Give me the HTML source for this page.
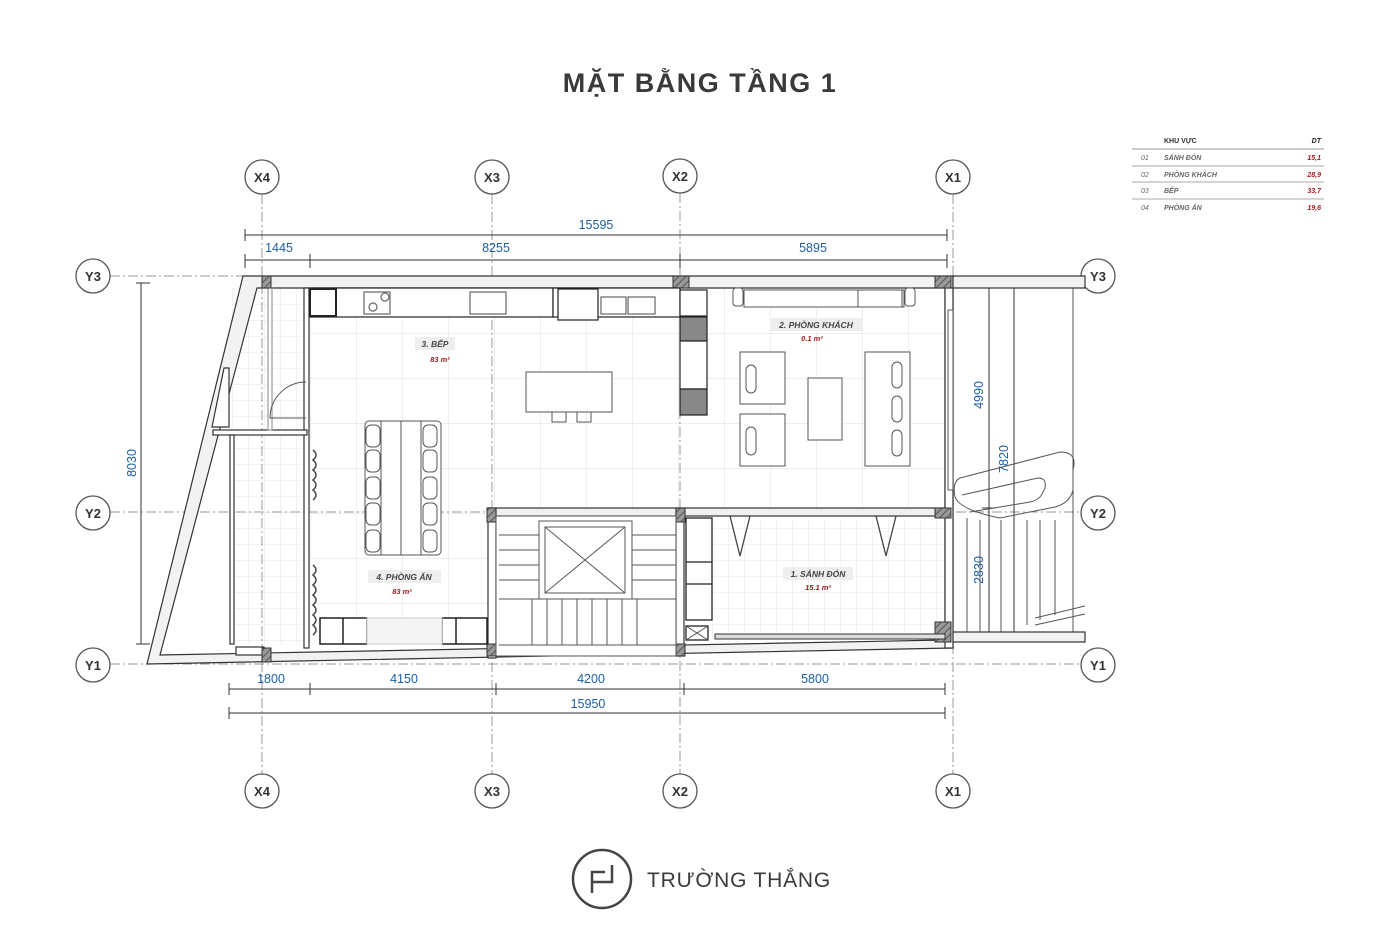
<!DOCTYPE html>
<html><head><meta charset="utf-8"><style>
html,body{margin:0;padding:0;background:#fff;}
svg{display:block;}
text{font-family:"Liberation Sans",sans-serif;}
</style></head><body>
<svg width="1400" height="930" viewBox="0 0 1400 930" xmlns="http://www.w3.org/2000/svg">
<defs>
<pattern id="tile" x="310" y="288" width="46" height="45" patternUnits="userSpaceOnUse">
<path d="M0 0H46M0 0V45" stroke="#ddd" stroke-width="1" fill="none"/>
</pattern>
<pattern id="tile2" x="232" y="288" width="16" height="16" patternUnits="userSpaceOnUse">
<path d="M0 0H16M0 0V16" stroke="#e6e6e6" stroke-width="1" fill="none"/>
</pattern>
<pattern id="hatch" width="5" height="5" patternUnits="userSpaceOnUse" patternTransform="rotate(45)">
<rect width="5" height="5" fill="#999"/><line x1="0" y1="0" x2="0" y2="5" stroke="#555" stroke-width="2"/>
</pattern>
</defs>

<text x="700" y="92" text-anchor="middle" font-size="27" font-weight="bold" fill="#3a3a3a" letter-spacing="1.5">MẶT BẰNG TẦNG 1</text>

<!-- table -->
<g font-size="7" font-style="italic" font-weight="bold" fill="#666">
<text x="1164" y="143" font-style="normal" fill="#333">KHU VỰC</text>
<text x="1321" y="143" text-anchor="end" fill="#222">DT</text>
<line x1="1132" y1="149" x2="1324" y2="149" stroke="#999"/>
<text x="1141" y="160" font-weight="normal">01</text><text x="1164" y="160">SẢNH ĐÓN</text><text x="1321" y="160" text-anchor="end" fill="#a31b1b">15,1</text>
<line x1="1132" y1="166" x2="1324" y2="166" stroke="#aaa"/>
<text x="1141" y="177" font-weight="normal">02</text><text x="1164" y="177">PHÒNG KHÁCH</text><text x="1321" y="177" text-anchor="end" fill="#a31b1b">28,9</text>
<line x1="1132" y1="182" x2="1324" y2="182" stroke="#aaa"/>
<text x="1141" y="193" font-weight="normal">03</text><text x="1164" y="193">BẾP</text><text x="1321" y="193" text-anchor="end" fill="#a31b1b">33,7</text>
<line x1="1132" y1="199" x2="1324" y2="199" stroke="#aaa"/>
<text x="1141" y="210" font-weight="normal">04</text><text x="1164" y="210">PHÒNG ĂN</text><text x="1321" y="210" text-anchor="end" fill="#a31b1b">19,6</text>
</g>

<!-- floor tiles -->
<rect x="310" y="288" width="370" height="356" fill="url(#tile)"/>
<rect x="680" y="288" width="265" height="220" fill="url(#tile)"/>
<rect x="712" y="518" width="233" height="120" fill="url(#tile2)"/>
<rect x="232" y="288" width="75" height="356" fill="url(#tile2)"/>

<!-- grid lines -->
<g stroke="#999" stroke-width="1" stroke-dasharray="10,3,2,3" fill="none">
<line x1="262" y1="194" x2="262" y2="774"/>
<line x1="492" y1="194" x2="492" y2="774"/>
<line x1="680" y1="193" x2="680" y2="774"/>
<line x1="953" y1="194" x2="953" y2="774"/>
<line x1="110" y1="276" x2="1081" y2="276"/>
<line x1="110" y1="512" x2="1081" y2="512"/>
<line x1="110" y1="664" x2="1081" y2="664"/>
</g>
<g fill="#fff" stroke="#555" stroke-width="1.3">
<circle cx="262" cy="177" r="17"/><circle cx="492" cy="177" r="17"/><circle cx="680" cy="176" r="17"/><circle cx="953" cy="177" r="17"/>
<circle cx="262" cy="791" r="17"/><circle cx="492" cy="791" r="17"/><circle cx="680" cy="791" r="17"/><circle cx="953" cy="791" r="17"/>
<circle cx="93" cy="276" r="17"/><circle cx="93" cy="513" r="17"/><circle cx="93" cy="665" r="17"/>
<circle cx="1098" cy="276" r="17"/><circle cx="1098" cy="513" r="17"/><circle cx="1098" cy="665" r="17"/>
</g>
<g font-size="13" font-weight="bold" text-anchor="middle" fill="#333">
<text x="262" y="182">X4</text><text x="492" y="182">X3</text><text x="680" y="181">X2</text><text x="953" y="182">X1</text>
<text x="262" y="796">X4</text><text x="492" y="796">X3</text><text x="680" y="796">X2</text><text x="953" y="796">X1</text>
<text x="93" y="281">Y3</text><text x="93" y="518">Y2</text><text x="93" y="670">Y1</text>
<text x="1098" y="281">Y3</text><text x="1098" y="518">Y2</text><text x="1098" y="670">Y1</text>
</g>

<!-- dimensions -->
<g stroke="#333" stroke-width="1" fill="none">
<line x1="245" y1="235" x2="947" y2="235"/>
<line x1="245" y1="229" x2="245" y2="241"/><line x1="947" y1="229" x2="947" y2="241"/>
<line x1="245" y1="260" x2="947" y2="260"/>
<line x1="245" y1="254" x2="245" y2="268"/><line x1="310" y1="254" x2="310" y2="268"/><line x1="680" y1="254" x2="680" y2="268"/><line x1="947" y1="254" x2="947" y2="268"/>
<line x1="229" y1="689" x2="945" y2="689"/>
<line x1="229" y1="683" x2="229" y2="695"/><line x1="310" y1="683" x2="310" y2="695"/><line x1="496" y1="683" x2="496" y2="695"/><line x1="684" y1="683" x2="684" y2="695"/><line x1="945" y1="683" x2="945" y2="695"/>
<line x1="229" y1="713" x2="945" y2="713"/>
<line x1="229" y1="707" x2="229" y2="719"/><line x1="945" y1="707" x2="945" y2="719"/>
<line x1="141" y1="283" x2="141" y2="644"/>
<line x1="136" y1="283" x2="150" y2="283"/><line x1="136" y1="644" x2="150" y2="644"/>
<line x1="989" y1="283" x2="989" y2="632"/>
<line x1="1014" y1="283" x2="1014" y2="632"/>
<line x1="982" y1="283" x2="996" y2="283"/><line x1="1007" y1="283" x2="1021" y2="283"/>
<line x1="982" y1="508" x2="996" y2="508"/>
<line x1="982" y1="632" x2="996" y2="632"/><line x1="1007" y1="632" x2="1021" y2="632"/>
</g>
<g font-size="12.5" fill="#1a5fa8" text-anchor="middle">
<text x="596" y="229">15595</text>
<text x="279" y="252">1445</text><text x="496" y="252">8255</text><text x="813" y="252">5895</text>
<text x="271" y="683">1800</text><text x="404" y="683">4150</text><text x="591" y="683">4200</text><text x="815" y="683">5800</text>
<text x="588" y="708">15950</text>
<text transform="translate(136,463) rotate(-90)">8030</text>
<text transform="translate(983,395) rotate(-90)">4990</text>
<text transform="translate(1008,459) rotate(-90)">7820</text>
<text transform="translate(983,570) rotate(-90)">2830</text>
</g>

<!-- outer walls -->
<path d="M243 276 L953 276 L953 648 L147 664 Z M257 288 L945 288 L945 640 L160 655 Z" fill="#f2f2f2" fill-rule="evenodd" stroke="#333" stroke-width="1.2"/>
<g fill="#fff" stroke="#333" stroke-width="1.2">
<rect x="304" y="288" width="5" height="360"/>
<rect x="945" y="288" width="8" height="360"/>
<rect x="213" y="430" width="94" height="5"/>
<rect x="230" y="435" width="4" height="209"/>
<polygon points="224,368 229,368 229,427 212,427"/>
<rect x="268" y="288" width="4" height="142" stroke="#999"/>
<rect x="488" y="508" width="457" height="8" fill="#f0f0f0"/>
<rect x="488" y="508" width="8" height="150"/>
<rect x="676" y="508" width="8" height="148"/>
<rect x="953" y="276" width="132" height="12" fill="#f2f2f2"/>
<rect x="953" y="632" width="132" height="10" fill="#f2f2f2"/>
<rect x="236" y="647" width="28" height="8"/>
</g>
<!-- columns -->
<g fill="url(#hatch)" stroke="#333" stroke-width="1">
<rect x="262" y="276" width="9" height="12"/><rect x="673" y="276" width="16" height="12"/><rect x="935" y="276" width="16" height="12"/>
<rect x="262" y="648" width="9" height="14"/><rect x="487" y="508" width="9" height="14"/><rect x="487" y="644" width="9" height="12"/>
<rect x="676" y="508" width="9" height="14"/><rect x="676" y="644" width="9" height="12"/>
<rect x="935" y="622" width="16" height="20"/><rect x="935" y="508" width="16" height="10"/>
</g>

<!-- kitchen counter -->
<g fill="#fff" stroke="#222" stroke-width="1.2">
<rect x="310" y="288" width="243" height="29"/>
<rect x="310" y="289" width="26" height="27" stroke-width="2"/>
<rect x="364" y="292" width="26" height="22" stroke="#666"/>
<circle cx="373" cy="307" r="4" stroke="#666"/><circle cx="385" cy="297" r="4" stroke="#666"/>
<rect x="470" y="292" width="36" height="22" stroke="#666"/>
<rect x="553" y="288" width="127" height="29" fill="#fff"/>
<rect x="558" y="289" width="40" height="31"/>
<rect x="601" y="297" width="25" height="17" stroke="#666"/>
<rect x="628" y="297" width="27" height="17" stroke="#666"/>
<rect x="680" y="290" width="27" height="26"/>
<rect x="680" y="317" width="27" height="24" fill="#888"/>
<rect x="680" y="341" width="27" height="48"/>
<rect x="680" y="389" width="27" height="26" fill="#888"/>
</g>
<rect x="526" y="372" width="86" height="40" fill="#fff" stroke="#555"/>
<rect x="552" y="412" width="14" height="10" fill="none" stroke="#555"/><rect x="577" y="412" width="14" height="10" fill="none" stroke="#555"/>

<!-- dining table -->
<g fill="#fff" stroke="#555">
<rect x="365" y="421" width="76" height="134" rx="4"/>
<rect x="381" y="421" width="40" height="134"/>
<line x1="401" y1="421" x2="401" y2="555"/>
<rect x="366" y="425" width="14" height="22" rx="5"/><rect x="366" y="450" width="14" height="22" rx="5"/><rect x="366" y="477" width="14" height="22" rx="5"/><rect x="366" y="503" width="14" height="22" rx="5"/><rect x="366" y="530" width="14" height="22" rx="5"/>
<rect x="423" y="425" width="14" height="22" rx="5"/><rect x="423" y="450" width="14" height="22" rx="5"/><rect x="423" y="477" width="14" height="22" rx="5"/><rect x="423" y="503" width="14" height="22" rx="5"/><rect x="423" y="530" width="14" height="22" rx="5"/>
</g>
<g fill="#fff" stroke="#222" stroke-width="1.5">
<rect x="320" y="618" width="47" height="26"/><line x1="343" y1="618" x2="343" y2="644"/>
<rect x="442" y="618" width="45" height="26"/><line x1="456" y1="618" x2="456" y2="644"/>
</g>
<rect x="367" y="618" width="75" height="26" fill="#f4f4f4" stroke="#ccc"/>
<path d="M313 450 q6 5 0 10 q6 5 0 10 q6 5 0 10 q6 5 0 10 q6 5 0 10 M313 565 q6 5 0 10 q6 5 0 10 q6 5 0 10 q6 5 0 10 q6 5 0 10 q6 5 0 10 q6 5 0 10" fill="none" stroke="#444" stroke-width="1.5"/>
<path d="M306 382 A36 36 0 0 0 270 418 L306 418" fill="none" stroke="#555"/>

<!-- living room -->
<g fill="#fff" stroke="#555">
<rect x="733" y="288" width="10" height="18" rx="3"/><rect x="905" y="288" width="10" height="18" rx="3"/>
<rect x="744" y="290" width="160" height="17"/>
<rect x="858" y="290" width="44" height="17"/>
<rect x="740" y="352" width="45" height="52"/><rect x="740" y="414" width="45" height="52"/>
<rect x="808" y="378" width="34" height="62"/>
<rect x="865" y="352" width="45" height="114"/>
<rect x="746" y="365" width="10" height="28" rx="5"/><rect x="746" y="427" width="10" height="28" rx="5"/>
<rect x="892" y="362" width="10" height="26" rx="5"/><rect x="892" y="396" width="10" height="26" rx="5"/><rect x="892" y="430" width="10" height="26" rx="5"/>
<rect x="948" y="310" width="5" height="180"/>
</g>

<!-- stair -->
<g fill="none" stroke="#555">
<rect x="496" y="516" width="180" height="140" fill="#fff"/>
<rect x="539" y="521" width="93" height="78" fill="#fff"/>
<rect x="545" y="527" width="80" height="66"/>
<line x1="545" y1="527" x2="625" y2="593"/><line x1="625" y1="527" x2="545" y2="593"/>
<line x1="499" y1="535" x2="539" y2="535"/><line x1="499" y1="550" x2="539" y2="550"/><line x1="499" y1="565" x2="539" y2="565"/><line x1="499" y1="580" x2="539" y2="580"/><line x1="499" y1="599" x2="676" y2="599"/>
<line x1="632" y1="535" x2="676" y2="535"/><line x1="632" y1="550" x2="676" y2="550"/><line x1="632" y1="565" x2="676" y2="565"/><line x1="632" y1="580" x2="676" y2="580"/>
<line x1="532" y1="599" x2="532" y2="645"/><line x1="547" y1="599" x2="547" y2="645"/><line x1="562" y1="599" x2="562" y2="645"/><line x1="577" y1="599" x2="577" y2="645"/><line x1="592" y1="599" x2="592" y2="645"/><line x1="607" y1="599" x2="607" y2="645"/><line x1="622" y1="599" x2="622" y2="645"/><line x1="637" y1="599" x2="637" y2="645"/>
<line x1="499" y1="645" x2="676" y2="645"/>
</g>
<g fill="#fff" stroke="#222" stroke-width="1.3">
<rect x="686" y="518" width="26" height="102"/>
<line x1="686" y1="562" x2="712" y2="562"/><line x1="686" y1="584" x2="712" y2="584"/>
<rect x="686" y="626" width="22" height="14"/>
</g>
<path d="M686 626 L708 640 M708 626 L686 640" stroke="#555"/>
<path d="M730 516 L740 556 L750 516 M876 516 L886 556 L896 516" fill="none" stroke="#444" stroke-width="1.3"/>
<rect x="715" y="634" width="230" height="5" fill="#ddd" stroke="#333"/>

<!-- right exterior -->
<g fill="none" stroke="#555">
<line x1="1073" y1="288" x2="1073" y2="632"/>
<path d="M960 478 L1060 452 Q1078 452 1073 470 L1073 490 Q1070 503 1055 507 L1000 518 Q960 510 955 497 Q952 482 960 478 Z"/>
<path d="M962 495 L1038 478 Q1047 478 1045 488 L1043 492 Q1040 500 1030 502 L970 512"/>
<line x1="967" y1="518" x2="967" y2="632"/><line x1="980" y1="520" x2="980" y2="632"/><line x1="1001" y1="520" x2="1001" y2="632"/><line x1="1027" y1="520" x2="1027" y2="625"/><line x1="1040" y1="520" x2="1040" y2="620"/><line x1="1055" y1="520" x2="1055" y2="615"/>
<path d="M1035 618 L1085 606 M1035 625 L1085 614"/>
</g>

<!-- room labels -->
<g font-size="8.5" font-style="italic" font-weight="bold" text-anchor="middle">
<rect x="415" y="337" width="40" height="13" fill="#eee"/><text x="435" y="347" fill="#444">3. BẾP</text>
<text x="440" y="362" fill="#a31b1b" font-size="7.5">83 m²</text>
<rect x="368" y="570" width="73" height="13" fill="#eee"/><text x="404" y="580" fill="#444">4. PHÒNG ĂN</text>
<text x="402" y="594" fill="#a31b1b" font-size="7.5">83 m²</text>
<rect x="770" y="318" width="92" height="13" fill="#eee"/><text x="816" y="328" fill="#444">2. PHÒNG KHÁCH</text>
<text x="812" y="341" fill="#a31b1b" font-size="7.5">0.1 m²</text>
<rect x="783" y="567" width="70" height="13" fill="#eee"/><text x="818" y="577" fill="#444">1. SẢNH ĐÓN</text>
<text x="818" y="590" fill="#a31b1b" font-size="7.5">15.1 m²</text>
</g>

<!-- logo -->
<circle cx="602" cy="879" r="29" fill="none" stroke="#444" stroke-width="2.5"/>
<path d="M592 893 V872 H605 M592 882 H612 V865" fill="none" stroke="#444" stroke-width="2.5"/>
<text x="647" y="887" font-size="21" fill="#3a3a3a" letter-spacing="0.8">TRƯỜNG THẮNG</text>
</svg>
</body></html>
